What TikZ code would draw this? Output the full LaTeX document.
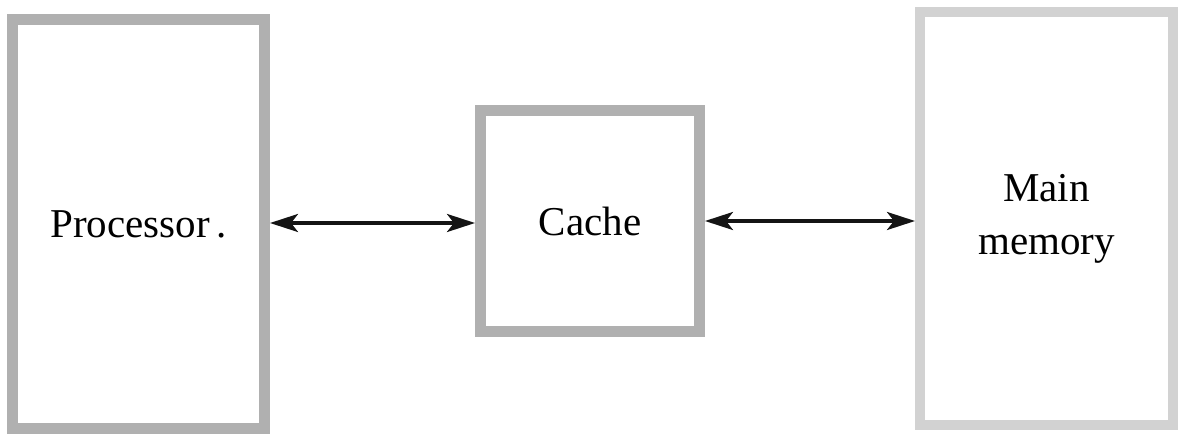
\documentclass[tikz,border=0pt]{standalone}
\usepackage{fontspec}
\newfontfamily\labelfont{Liberation Serif}
\usetikzlibrary{arrows.meta}
\tikzset{
  unit/.style={draw=#1, line width=11pt, inner sep=0pt, align=center,
    font=\labelfont\fontsize{41}{53}\selectfont},
  link/.style={line width=3.5pt, draw=black!92,
    {Stealth[length=28pt,width=18pt,inset=7pt]}-{Stealth[length=28pt,width=18pt,inset=7pt]}}
}
\begin{document}
\begin{tikzpicture}[x=1pt,y=-1pt]
  \useasboundingbox[fill=white] (0,0) rectangle (1181,434);
  % the three units of the memory hierarchy
  \node[unit=gray!62, minimum width=252pt, minimum height=409pt] (proc) at (138.5,224) {Processor\,.};
  \node[unit=gray!62, minimum width=219pt, minimum height=221pt] (cache) at (590,221) {Cache};
  \node[unit=gray!35, minimum width=253pt, minimum height=413pt, line width=10pt] (mem) at (1046.5,218.5) {Main\\memory};
  % bidirectional data paths
  \draw[link] (proc.east |- 0,223) -- (cache.west |- 0,223);
  \draw[link] (cache.east |- 0,221) -- (mem.west |- 0,221);
\end{tikzpicture}
\end{document}
